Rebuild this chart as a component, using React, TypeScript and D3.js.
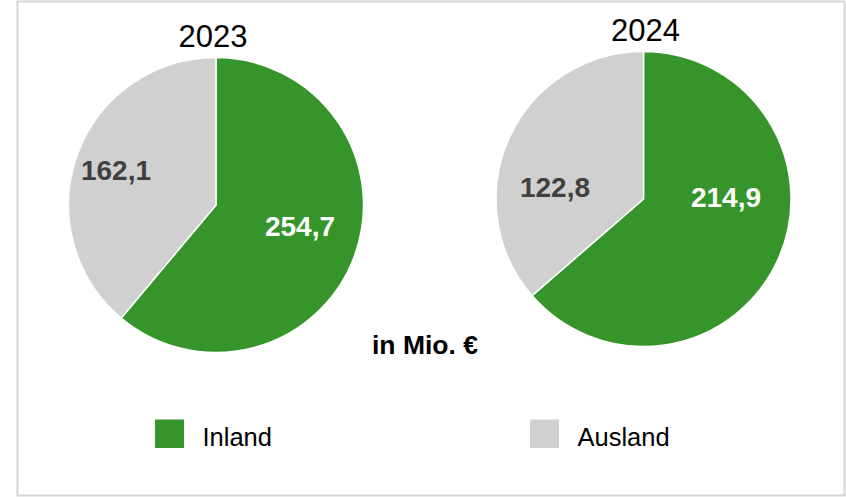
import React from "react";
import * as d3 from "d3";

const categories = ["Inland", "Ausland"];
const years = ["2023", "2024"];
const values2023 = [254.7, 162.1];
const values2024 = [214.9, 122.8];
const unitLabel = "in Mio. €";

const colors = ["#36952a", "#d0d0d0"];
const labelColors = ["#ffffff", "#404040"];

const W = 846;
const H = 497;
const FONT = "'Liberation Sans', Arial, Helvetica, sans-serif";

// layout: pie centres, radius, label offsets relative to pie centre
const pies = [
  { year: years[0], values: values2023, cx: 216, cy: 205, r: 147.5, labelOffsets: [[84, 21.3], [-100, -34.7]] },
  { year: years[1], values: values2024, cx: 643.5, cy: 199, r: 147.5, labelOffsets: [[82.5, -1.7], [-88.5, -11.7]] },
];

const fmt = (v: number) => v.toFixed(1).replace(".", ",");

export default function App() {
  const pieGen = d3.pie<number>().sort(null).value((d) => d);
  return (
    <div style={{ position: "fixed", left: 0, top: 0 }}>
      <svg width={W} height={H} style={{ display: "block", fontFamily: FONT }}>
        <rect x={0} y={0} width={W} height={H} fill="#ffffff" />
        <rect x={17.5} y={1.5} width={827} height={494} fill="none" stroke="#d4d4d4" strokeWidth={2} />
        {pies.map((p, pi) => {
          const arcs = pieGen(p.values);
          const arcGen = d3.arc<d3.PieArcDatum<number>>().innerRadius(0).outerRadius(p.r);
          return (
            <g key={pi}>
              <text x={p.cx - (pi === 0 ? 3 : -2)} y={p.cy - p.r - 11} textAnchor="middle" fontSize={31} fill="#000">
                {p.year}
              </text>
              <g transform={`translate(${p.cx},${p.cy})`}>
                {arcs.map((a, i) => (
                  <path key={i} d={arcGen(a) || ""} fill={colors[i]} stroke="#ffffff" strokeWidth={1.5} strokeLinejoin="round" />
                ))}
                {arcs.map((a, i) => (
                  <text
                    key={"l" + i}
                    x={p.labelOffsets[i][0]}
                    y={p.labelOffsets[i][1]}
                    dy="0.36em"
                    textAnchor="middle"
                    fontSize={28}
                    fontWeight="bold"
                    fill={labelColors[i]}
                  >
                    {fmt(a.data)}
                  </text>
                ))}
              </g>
            </g>
          );
        })}
        <text x={425} y={354.3} textAnchor="middle" fontSize={26.5} fontWeight="bold" fill="#000">
          {unitLabel}
        </text>
        {categories.map((c, i) => {
          const x = i === 0 ? 155 : 530;
          return (
            <g key={c}>
              <rect x={x} y={419.5} width={29} height={28.5} fill={colors[i]} />
              <text x={x + 47.5} y={445.5} fontSize={25.5} fill="#000">
                {c}
              </text>
            </g>
          );
        })}
      </svg>
    </div>
  );
}
